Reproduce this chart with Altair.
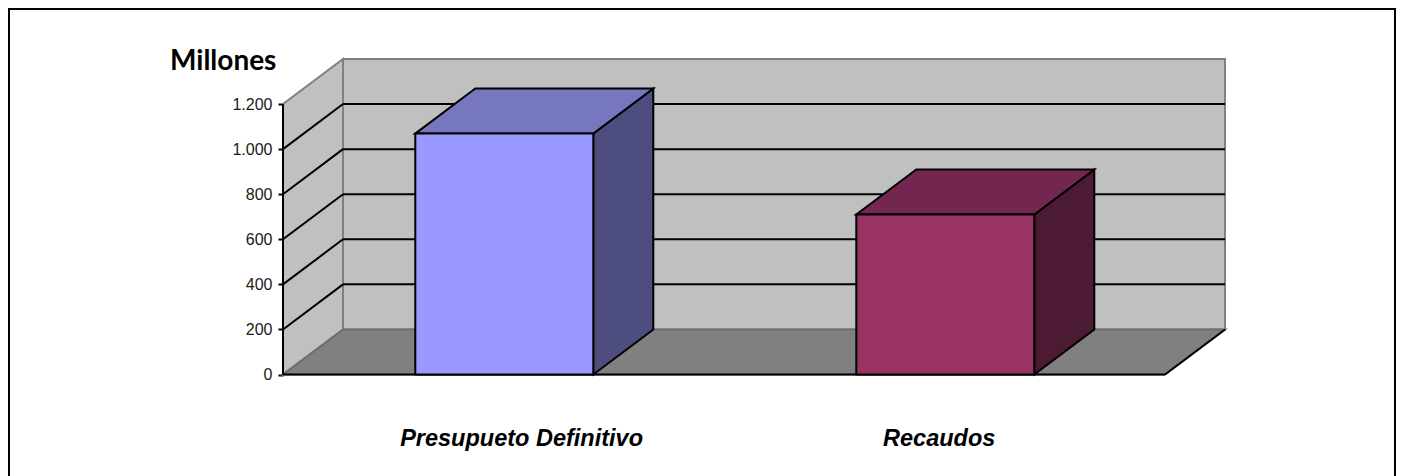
import altair as alt
import pandas as pd

categories = ["Presupueto Definitivo", "Recaudos"]
values = [1069, 710]
bar_left = [0.3000, 1.3000]
label_x = [0.541, 1.488]
front_fill = ["#9999FF", "#993366"]
top_fill = ["#7777BF", "#732650"]
side_fill = ["#4D4D80", "#4D1A33"]
y_ticks = [0, 200, 400, 600, 800, 1000, 1200]

BAR_W = 0.4036
DX = 60 / 441
DY = 200
N = 2
X_DOM = [0, N + DX]
Y_DOM = [0, 1400]

xs = alt.Scale(domain=X_DOM, nice=False, zero=False)
ys = alt.Scale(domain=Y_DOM, nice=False, zero=False)
X = alt.X("x:Q", scale=xs, axis=None)
X2 = alt.X2("x2:Q")
Y = alt.Y("y:Q", scale=ys, title=None, axis=alt.Axis(
    values=y_ticks, domain=False, grid=False, ticks=True, tickColor="black", tickWidth=2, tickSize=5,
    labelPadding=6, labelFontSize=16, labelFont="Liberation Sans", labelColor="#1A1A1A",
    labelExpr="replace(format(datum.value, ','), ',', '.')"))
Y2 = alt.Y2("y2:Q")
GRAY = "#808080"


def df(rows):
    return pd.DataFrame(rows)


def vface(x0, x1, lo, hi, fill, stroke, sw=2):
    d = df([dict(x=x0, y=lo, y2=hi), dict(x=x1, y=lo + DY, y2=hi + DY)])
    return alt.Chart(d).mark_area(fill=fill, stroke=stroke, strokeWidth=sw, opacity=1).encode(x=X, y=Y, y2=Y2)


def hface(x0, x1, lo, fill, stroke, sw=2):
    d = df([dict(y=lo, x=x0, x2=x1), dict(y=lo + DY, x=x0 + DX, x2=x1 + DX)])
    return alt.Chart(d).mark_area(orient="horizontal", fill=fill, stroke=stroke, strokeWidth=sw, opacity=1).encode(y=Y, x=X, x2=X2)


def seg(x0, y0, x1, y1, color="black", sw=2):
    d = df([dict(x=x0, y=y0, o=0), dict(x=x1, y=y1, o=1)])
    return alt.Chart(d).mark_line(color=color, strokeWidth=sw, clip=False).encode(x=X, y=Y, order="o:Q")


back = alt.Chart(df([dict(x=DX, x2=N + DX, y=DY, y2=1400)])).mark_rect(
    fill="#C0C0C0", stroke=GRAY, strokeWidth=2).encode(x=X, x2=X2, y=Y, y2=Y2)
left_wall = vface(0, DX, 0, 1200, "#C0C0C0", GRAY)
floor = hface(0, N, 0, GRAY, "#6E6E6E")

layers = [back, left_wall, floor]

for v in y_ticks[1:-1]:
    layers.append(seg(0, v, DX, v + DY))
    layers.append(seg(DX, v + DY, N + DX, v + DY))

layers.append(seg(0, 0, N, 0))
layers.append(seg(N, 0, N + DX, DY))
layers.append(seg(0, 0, 0, 1200))

for i, v in enumerate(values):
    x0, x1 = bar_left[i], bar_left[i] + BAR_W
    layers.append(vface(x1, x1 + DX, 0, v, side_fill[i], "black"))
    layers.append(hface(x0, x1, v, top_fill[i], "black"))
    layers.append(
        alt.Chart(df([dict(x=x0, x2=x1, y=0, y2=v)])).mark_rect(
            fill=front_fill[i], stroke="black", strokeWidth=2).encode(x=X, x2=X2, y=Y, y2=Y2)
    )

labels = alt.Chart(pd.DataFrame({"x": label_x, "t": categories})).mark_text(
    font="Liberation Sans", fontSize=23.5, fontWeight="bold", fontStyle="italic", color="black", baseline="alphabetic"
).encode(x=X, y=alt.value(387), text="t:N")
layers.append(labels)

title = alt.Chart(df([dict(t="Millones")])).mark_text(
    font="Lato", fontSize=28, fontWeight="bold", color="black", align="left", baseline="alphabetic"
).encode(x=alt.value(-113), y=alt.value(11), text="t:N")
layers.append(title)

frame = alt.Chart(df([dict(a=1)])).mark_rect(fill="transparent", stroke="black", strokeWidth=2).encode(
    x=alt.value(-274), x2=alt.value(1112), y=alt.value(-50), y2=alt.value(520))
layers.append(frame)

chart = alt.layer(*layers).properties(
    width=942, height=315.5,
    padding={"left": 275, "top": 51, "right": 171, "bottom": 101.5},
    autosize=alt.AutoSizeParams(type="none"),
    background="white",
).configure_view(stroke=None)

chart.save("out.html", embed_options={"renderer": "svg", "actions": False})
